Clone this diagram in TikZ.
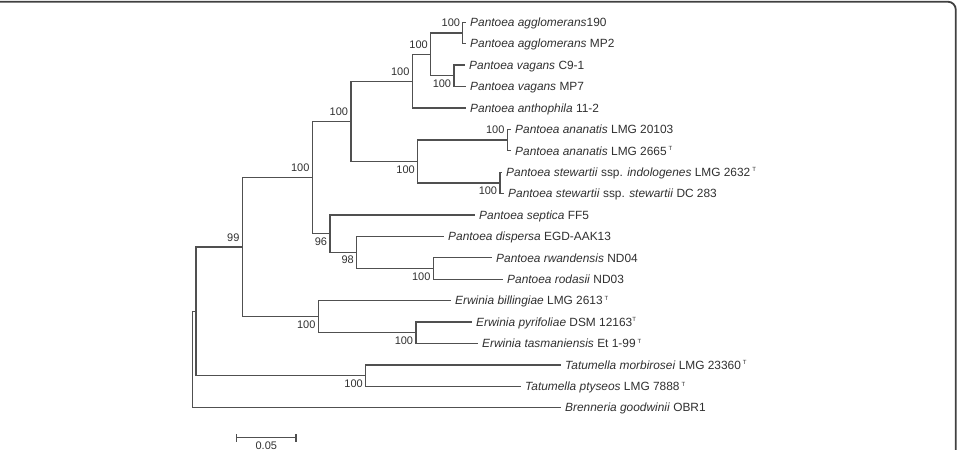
\documentclass[tikz,border=0pt]{standalone}
\usepackage{fontspec}
\setmainfont{Liberation Sans}
\definecolor{treeline}{HTML}{505050}
\definecolor{txt}{HTML}{303030}
\definecolor{framec}{HTML}{404040}
\newcommand{\typ}{\,{\fontsize{6}{6}\selectfont\raisebox{4.5pt}{T}}}
\begin{document}
\begin{tikzpicture}[x=1pt,y=-1pt,
  br/.style={draw=treeline, line width=1.3pt},
  frame/.style={draw=framec, line width=1.8pt, rounded corners=8pt},
  tip/.style={anchor=west, inner sep=0pt, xshift=4pt, text height=9pt, text depth=0.5pt, font=\fontsize{11.9}{14}\selectfont, text=txt},
  bs/.style={anchor=east, inner sep=0pt, text height=7.9pt, text depth=0pt, font=\fontsize{11}{13}\selectfont, text=txt}]
\useasboundingbox (0,0) rectangle (959,450);
% frame
\draw[frame] (-5,1.7) -- (955.8,1.7) -- (955.8,470);
% tips
\coordinate (t0) at (466,22.3);
\coordinate (t1) at (466,43.71);
\coordinate (t2) at (465,65.12);
\coordinate (t3) at (466,86.53);
\coordinate (t4) at (466,107.94);
\coordinate (t5) at (511,129.35);
\coordinate (t6) at (511,150.76);
\coordinate (t7) at (502,172.17);
\coordinate (t8) at (504,193.58);
\coordinate (t9) at (475,214.99);
\coordinate (t10) at (444,236.4);
\coordinate (t11) at (492,257.81);
\coordinate (t12) at (503,279.22);
\coordinate (t13) at (451,300.63);
\coordinate (t14) at (472,322.04);
\coordinate (t15) at (478,343.45);
\coordinate (t16) at (561,364.86);
\coordinate (t17) at (521,386.27);
\coordinate (t18) at (561,407.68);
\node[tip] (n0) at (t0) {\textit{Pantoea agglomerans}190};
\node[tip] (n1) at (t1) {\textit{Pantoea agglomerans} MP2};
\node[tip] (n2) at (t2) {\textit{Pantoea vagans} C9-1};
\node[tip] (n3) at (t3) {\textit{Pantoea vagans} MP7};
\node[tip] (n4) at (t4) {\textit{Pantoea anthophila} 11-2};
\node[tip] (n5) at (t5) {\textit{Pantoea ananatis} LMG 20103};
\node[tip] (n6) at (t6) {\textit{Pantoea ananatis} LMG 2665\typ};
\node[tip] (n7) at (t7) {\textit{Pantoea stewartii} ssp. \textit{indologenes} LMG 2632\typ};
\node[tip] (n8) at (t8) {\textit{Pantoea stewartii} ssp. \textit{stewartii} DC 283};
\node[tip] (n9) at (t9) {\textit{Pantoea septica} FF5};
\node[tip] (n10) at (t10) {\textit{Pantoea dispersa} EGD-AAK13};
\node[tip] (n11) at (t11) {\textit{Pantoea rwandensis} ND04};
\node[tip] (n12) at (t12) {\textit{Pantoea rodasii} ND03};
\node[tip] (n13) at (t13) {\textit{Erwinia billingiae} LMG 2613\typ};
\node[tip] (n14) at (t14) {\textit{Erwinia pyrifoliae} DSM 12163{\fontsize{6}{6}\selectfont\raisebox{4.5pt}{T}}};
\node[tip] (n15) at (t15) {\textit{Erwinia tasmaniensis} Et 1-99\typ};
\node[tip] (n16) at (t16) {\textit{Tatumella morbirosei} LMG 23360\typ};
\node[tip] (n17) at (t17) {\textit{Tatumella ptyseos} LMG 7888\typ};
\node[tip] (n18) at (t18) {\textit{Brenneria goodwinii} OBR1};
% internal nodes
\coordinate (A1) at (462.7,33.0);
\coordinate (vag) at (454,75.83);
\coordinate (A2) at (430.7,54.41);
\coordinate (A3) at (412.3,81.18);
\coordinate (ana) at (507.3,140.06);
\coordinate (stew) at (500,182.88);
\coordinate (AS) at (417.7,161.47);
\coordinate (B) at (351,121.32);
\coordinate (G) at (433.3,268.52);
\coordinate (F) at (356.7,252.46);
\coordinate (E) at (330,233.72);
\coordinate (C) at (312.3,177.52);
\coordinate (I) at (416,332.75);
\coordinate (H) at (318.3,316.69);
\coordinate (D) at (242.3,247.1);
\coordinate (J) at (365.7,375.57);
\coordinate (K) at (196,311.33);
\coordinate (R) at (192.3,359.5);
% branches
\draw[br] (A1) |- (t0);  \draw[br] (A1) |- (t1);
\draw[br] (vag) |- (t2); \draw[br] (vag) |- (t3);
\draw[br] (A2) |- (A1);  \draw[br] (A2) |- (vag);
\draw[br] (A3) |- (A2);  \draw[br] (A3) |- (t4);
\draw[br] (ana) |- (t5); \draw[br] (ana) |- (t6);
\draw[br] (stew) |- (t7); \draw[br] (stew) |- (t8);
\draw[br] (AS) |- (ana); \draw[br] (AS) |- (stew);
\draw[br] (B) |- (A3);   \draw[br] (B) |- (AS);
\draw[br] (G) |- (t11);  \draw[br] (G) |- (t12);
\draw[br] (F) |- (t10);  \draw[br] (F) |- (G);
\draw[br] (E) |- (t9);   \draw[br] (E) |- (F);
\draw[br] (C) |- (B);    \draw[br] (C) |- (E);
\draw[br] (I) |- (t14);  \draw[br] (I) |- (t15);
\draw[br] (H) |- (t13);  \draw[br] (H) |- (I);
\draw[br] (D) |- (C);    \draw[br] (D) |- (H);
\draw[br] (J) |- (t16);  \draw[br] (J) |- (t17);
\draw[br] (K) |- (D);    \draw[br] (K) |- (J);
\draw[br] (R) |- (K);    \draw[br] (R) |- (t18);
% bootstrap values
\node[bs] (lA1) at (460.2,22.8) {100};
\node[bs] (lA2) at (428,44.4) {100};
\node[bs] (lA3) at (409.6,71.2) {100};
\node[bs] (lvag) at (451.3,83.8) {100};
\node[bs] (lB) at (348.3,111.3) {100};
\node[bs] (lana) at (504.6,130) {100};
\node[bs] (lAS) at (415,169.5) {100};
\node[bs] (lstew) at (497.3,191) {100};
\node[bs] (lC) at (309.6,167.7) {100};
\node[bs] (lE) at (327.3,241.7) {96};
\node[bs] (lF) at (354,260) {98};
\node[bs] (lG) at (430.6,276.5) {100};
\node[bs] (lD) at (239.6,237.7) {99};
\node[bs] (lH) at (315.6,325) {100};
\node[bs] (lI) at (413.3,341) {100};
\node[bs] (lJ) at (363,384) {100};
% scale bar
\coordinate (s1) at (236.5,437.7);
\coordinate (s2) at (296,437.7);
\draw[br, line width=1.2pt] (s1) -- (s2);
\draw[br, line width=1.2pt] ([yshift=-3.8pt]s1) -- ([yshift=3.8pt]s1);
\draw[br, line width=1.2pt] ([yshift=-3.8pt]s2) -- ([yshift=3.8pt]s2);
\node[anchor=base, inner sep=0pt, font=\fontsize{11}{13}\selectfont, text=txt] (sl) at (266.3,449.6) {0.05};
\end{tikzpicture}
\end{document}
